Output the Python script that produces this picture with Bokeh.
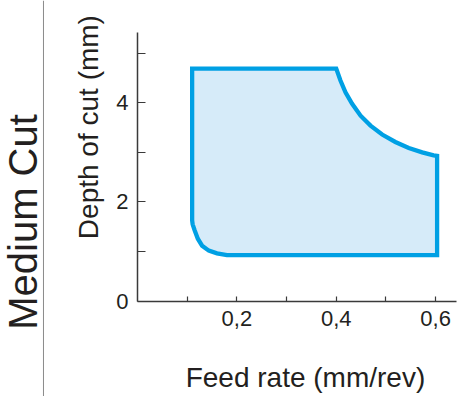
import math
from bokeh.plotting import figure
from bokeh.models import Range1d, FixedTicker, Label, Span
from bokeh.embed import file_html
from bokeh.resources import INLINE

# ---- data ----
feed_rate = [0.110, 0.400, 0.4085, 0.4186, 0.432, 0.449, 0.469, 0.4924, 0.519,
             0.546, 0.573, 0.596, 0.603, 0.603, 0.180, 0.160, 0.1435, 0.130,
             0.1214, 0.115, 0.111, 0.110]
depth_of_cut = [4.69, 4.69, 4.45, 4.21, 3.98, 3.74, 3.54, 3.36, 3.21,
                3.09, 3.00, 2.94, 2.93, 0.93, 0.93, 0.965, 1.02, 1.12,
                1.26, 1.43, 1.55, 1.63]

x_major = [0.2, 0.4, 0.6]
x_minor = [0.1, 0.3, 0.5]
x_tick_labels = ["0,2", "0,4", "0,6"]
y_major = [0, 2, 4]
y_minor = [1, 3, 5]
y_tick_labels = ["0", "2", "4"]

title_text = "Medium Cut"
x_label = "Feed rate (mm/rev)"
y_label = "Depth of cut (mm)"

FONT = "Liberation Sans"
TEXT = "#231f20"
AXIS = "#3a3a3a"
LINE = "#00a0e4"
FILL = "#d6ebf9"

# frame fills the whole canvas; axes are pinned at 0 with fixed_location
p = figure(width=461, height=396,
           x_range=Range1d(-0.2757, 0.6521), y_range=Range1d(-1.9214, 6.0625),
           output_backend="svg", toolbar_location=None, min_border=0)
p.outline_line_color = None
p.grid.visible = False

p.patch(feed_rate, depth_of_cut, fill_color=FILL, line_color=LINE,
        line_width=4.3, line_join="miter")

p.xaxis.fixed_location = 0
p.yaxis.fixed_location = 0
p.xaxis.bounds = (0, 0.642)
p.yaxis.bounds = (0, 5.42)

p.xaxis.ticker = FixedTicker(ticks=x_major, minor_ticks=x_minor)
p.yaxis.ticker = FixedTicker(ticks=y_major, minor_ticks=y_minor)
p.xaxis.major_label_overrides = {v: s for v, s in zip(x_major, x_tick_labels)}
p.yaxis.major_label_overrides = {v: s for v, s in zip(y_major, y_tick_labels)}

for ax, tick_len in ((p.xaxis, 5), (p.yaxis, 8)):
    ax.axis_line_color = AXIS
    ax.axis_line_width = 1.5
    ax.major_tick_line_color = AXIS
    ax.minor_tick_line_color = AXIS
    ax.major_tick_line_width = 1.2
    ax.minor_tick_line_width = 1.2
    ax.major_tick_in = tick_len
    ax.major_tick_out = 0
    ax.minor_tick_in = tick_len
    ax.minor_tick_out = 0
    ax.major_label_text_font = FONT
    ax.major_label_text_font_size = "22px"
    ax.major_label_text_color = TEXT

p.xaxis.major_label_standoff = 10
p.yaxis.major_label_standoff = 9

# separator and texts
p.add_layout(Span(location=-0.1892, dimension="height", line_color="#8a8a8a", line_width=1))
p.add_layout(Label(x=-0.2314, y=1.597, text=title_text, angle=math.pi / 2,
                   text_align="center", text_baseline="alphabetic",
                   text_font=FONT, text_font_size="40px", text_color=TEXT))
p.add_layout(Label(x=0.338, y=-1.539, text=x_label, text_align="center",
                   text_baseline="alphabetic", text_font=FONT,
                   text_font_size="28px", text_color=TEXT))
p.add_layout(Label(x=-0.0986, y=3.51, text=y_label, angle=math.pi / 2,
                   text_align="center", text_baseline="alphabetic", text_font=FONT,
                   text_font_size="28px", text_color=TEXT))

open("out.html", "w").write(file_html(p, INLINE))
